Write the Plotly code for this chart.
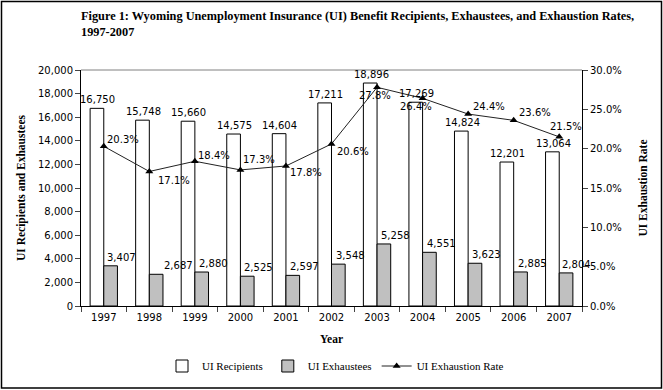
import plotly.graph_objects as go

years = ["1997", "1998", "1999", "2000", "2001", "2002", "2003", "2004", "2005", "2006", "2007"]
recipients = [16750, 15748, 15660, 14575, 14604, 17211, 18896, 17269, 14824, 12201, 13064]
exhaustees = [3407, 2687, 2880, 2525, 2597, 3548, 5258, 4551, 3623, 2885, 2804]
rates = [0.203, 0.171, 0.184, 0.173, 0.178, 0.206, 0.278, 0.264, 0.244, 0.236, 0.215]

# label placement styles (pixel offsets from each mark)
rate_label_dx = [1, 7, 1, 1, 2, 3, -20, -25, 3, 3, -11]
rate_label_dy = [7, -9, 6, 10, -7, -8, -8, -8, 8, 8, 10]
exh_label_dx = [1, 13, 2, 2, 2, 2, 2, 2, 2, 2, 1]

SANS = "DejaVu Sans"
SERIF = "Liberation Serif"

fig = go.Figure()
fig.add_trace(go.Bar(
    x=years, y=recipients, name="UI Recipients",
    marker=dict(color="white", line=dict(color="black", width=1)),
))
fig.add_trace(go.Bar(
    x=years, y=exhaustees, name="UI Exhaustees",
    marker=dict(color="#c0c0c0", line=dict(color="black", width=1)),
))
fig.add_trace(go.Scatter(
    x=years, y=rates, name="UI Exhaustion Rate", yaxis="y2", mode="lines+markers",
    line=dict(color="#222222", width=1),
    marker=dict(symbol="triangle-up", size=7, color="black"),
    cliponaxis=False,
))

# recipient value labels (index position on the category axis)
for i, v in enumerate(recipients):
    fig.add_annotation(x=i, y=v, xref="x", yref="y", text=f"{v:,}", showarrow=False,
                       xanchor="center", yanchor="bottom", xshift=-6, yshift=1,
                       font=dict(family=SANS, size=10, color="black"))

# exhaustee value labels
for i, (v, dx) in enumerate(zip(exhaustees, exh_label_dx)):
    fig.add_annotation(x=i, y=v, xref="x", yref="y", text=f"{v:,}", showarrow=False,
                       xanchor="left", yanchor="bottom", xshift=dx, yshift=1,
                       font=dict(family=SANS, size=10, color="black"))

# exhaustion-rate labels
for i, (v, dx, dy) in enumerate(zip(rates, rate_label_dx, rate_label_dy)):
    fig.add_annotation(x=i, y=v, xref="x", yref="y2", text=f"{v*100:.1f}%", showarrow=False,
                       xanchor="left", yanchor="middle", xshift=dx, yshift=dy,
                       font=dict(family=SANS, size=10, color="black"))

W, H = 663, 390
L, R, T, B = 81, 81, 70, 84
pw, ph = W - L - R, H - T - B

fig.update_layout(
    width=W, height=H, margin=dict(l=L, r=R, t=T, b=B, autoexpand=False),
    paper_bgcolor="white", plot_bgcolor="white",
    barmode="group", bargap=0.4, bargroupgap=0,
    title=dict(text="<b>Figure 1: Wyoming Unemployment Insurance (UI) Benefit Recipients, Exhaustees, and Exhaustion Rates,<br>1997-2007</b>",
               x=L / W, xanchor="left", y=1 - 20 / H, yanchor="top",
               font=dict(family=SERIF, size=12.3, color="black")),
    xaxis=dict(type="category", categoryorder="array", categoryarray=years,
               range=[-0.5, len(years) - 0.5],
               tickson="boundaries", ticks="outside", ticklen=5,
               ticklabelstandoff=2, automargin=False,
               showline=True, linecolor="black", linewidth=1,
               tickfont=dict(family=SANS, size=10, color="black"),
               title=dict(text="<b>Year</b>", font=dict(family=SERIF, size=11.5, color="black"), standoff=12)),
    yaxis=dict(range=[0, 20000], dtick=2000, tickformat=",", ticks="outside", ticklen=5,
               showline=True, linecolor="black", linewidth=1, showgrid=False, zeroline=False,
               automargin=False,
               tickfont=dict(family=SANS, size=10, color="black"),
               title=dict(text="<b>UI Recipients and Exhaustees</b>", font=dict(family=SERIF, size=11.5, color="black"), standoff=9)),
    yaxis2=dict(range=[0, 0.30], dtick=0.05, tickformat=".1%", ticks="outside", ticklen=5,
                overlaying="y", side="right", automargin=False,
                showline=True, linecolor="black", linewidth=1, showgrid=False, zeroline=False,
                tickfont=dict(family=SANS, size=10, color="black"),
                title=dict(text="<b>UI Exhaustion Rate</b>", font=dict(family=SERIF, size=11.5, color="black"), standoff=18)),
    legend=dict(orientation="h", x=(162 - L) / pw, xanchor="left", y=(T + ph - 366) / ph, yanchor="middle",
                font=dict(family=SERIF, size=11, color="black"), traceorder="normal", itemwidth=30),
    showlegend=True,
    shapes=[
        dict(type="line", xref="paper", yref="paper", x0=0, x1=1, y0=1, y1=1,
             line=dict(color="#808080", width=1)),
        dict(type="rect", xref="paper", yref="paper",
             x0=(1.5 - L) / pw, x1=(661.5 - L) / pw,
             y0=(T + ph - 388) / ph, y1=(T + ph - 1.5) / ph,
             line=dict(color="black", width=1.5)),
    ],
)

fig.write_html("out.html", config={"displayModeBar": False},
               post_script="document.body.style.margin='0';")
